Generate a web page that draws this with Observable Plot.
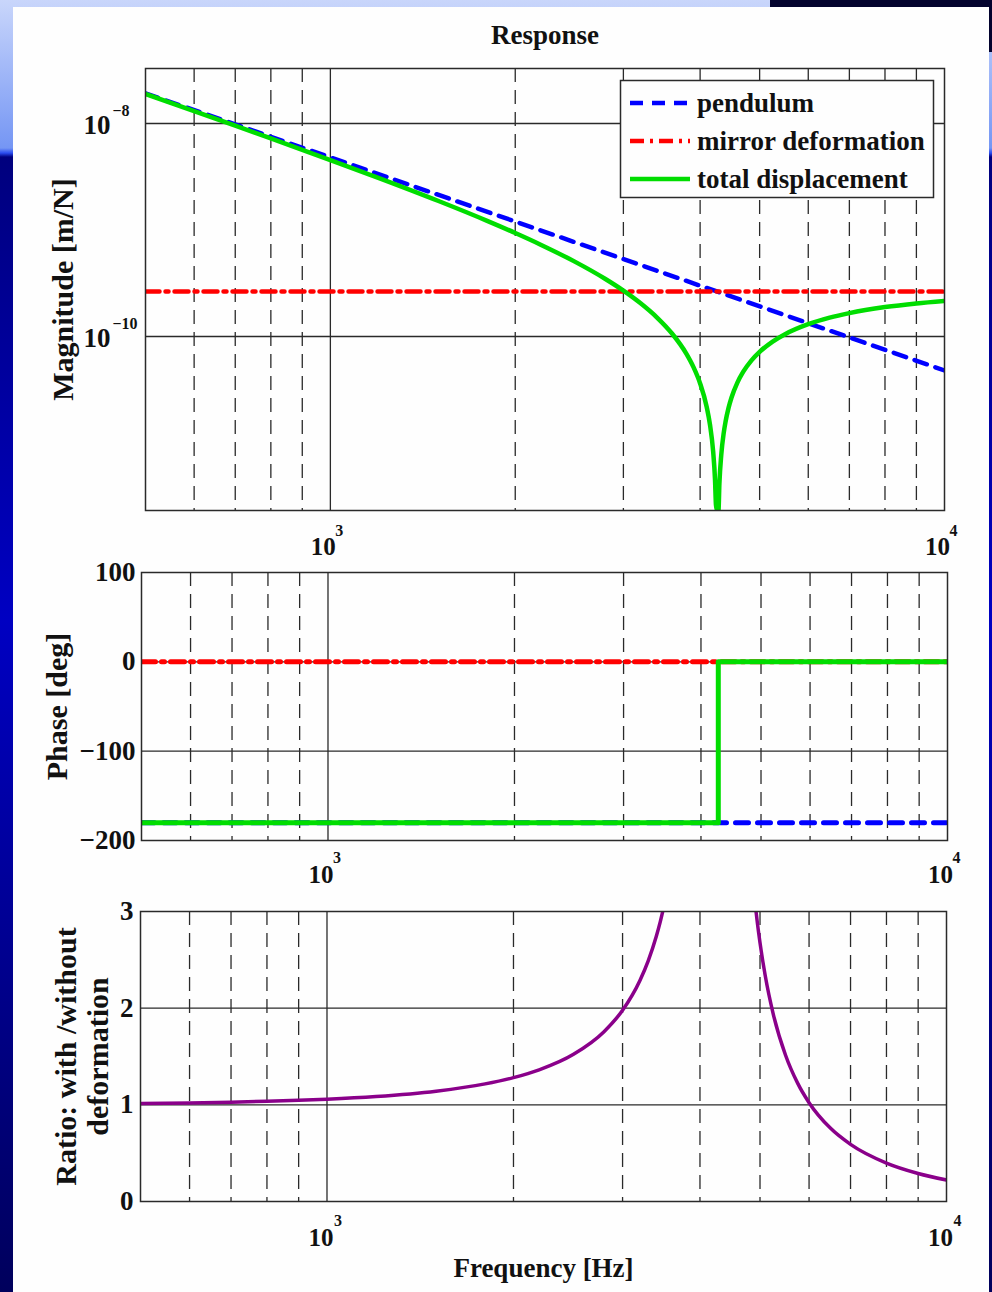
<!DOCTYPE html>
<html>
<head>
<meta charset="utf-8">
<script src="https://cdn.jsdelivr.net/npm/d3@7"></script>
<script src="https://cdn.jsdelivr.net/npm/@observablehq/plot@0.6"></script>
<style>
html, body { margin: 0; padding: 0; }
body {
  width: 992px; height: 1292px; position: relative; overflow: hidden;
  background: linear-gradient(to bottom, #c9d6fb 0px, #7596f4 148px, #2a4cf0 153px, #00007e 157px, #0000c2 620px, #00005c 1292px);
  font-family: "Liberation Serif", "Times New Roman", serif;
}
#sheet { position: absolute; left: 13px; top: 7px; width: 976px; height: 1285px; background: #fefefe; }
#logo { position: absolute; left: 770px; top: 0; width: 222px; height: 7px; background: #03032e; }
#logo2 { position: absolute; left: 989px; top: 0; width: 3px; height: 52px; background: #03032e; }
.plot { position: absolute; left: 0; }
</style>
</head>
<body>
<div id="logo"></div>
<div id="logo2"></div>
<div id="sheet"></div>
<div id="p1" class="plot" style="top:0px"></div>
<div id="p2" class="plot" style="top:560px"></div>
<div id="p3" class="plot" style="top:890px"></div>
<div id="legend" class="plot" style="top:0px"></div>
<script>
// ---------------- data ----------------
const freqMinor = [600, 700, 800, 900, 2000, 3000, 4000, 5000, 6000, 7000, 8000, 9000];
const freqDecades = [1000, 10000];
const decadeExp = ["3", "4"];

const magTicks = [1e-8, 1e-10];
const magTickExp = ["\u22128", "\u221210"];
const phaseTicks = [-200, -100, 0, 100];
const ratioTicks = [0, 1, 2, 3];

const seriesNames = ["pendulum", "mirror deformation", "total displacement"];

// pendulum (free mass, 1/f^2)
const pendFreq = [500, 10000];
const pendMag = [1.92e-8, 4.8e-11];
const pendPhase = [-180, -180];

// mirror deformation (flat)
const mirrorFreq = [500, 10000];
const mirrorMag = [2.638e-10, 2.638e-10];
const mirrorPhase = [0, 0];

// total displacement
const totalFreq = [500, 600, 700, 800, 900, 1000, 1200, 1500, 1800, 2000, 2200, 2500, 2800, 3000, 3200, 3400, 3600, 3800, 3900, 4000, 4100, 4150, 4200, 4230, 4245, 4263, 4285, 4300, 4330, 4370, 4400, 4450, 4500, 4600, 4700, 4850, 5000, 5250, 5500, 6000, 6500, 7000, 8000, 9000, 10000];
const totalMag = [1.894e-8, 1.307e-8, 9.534e-9, 7.238e-9, 5.663e-9, 4.537e-9, 3.070e-9, 1.870e-9, 1.218e-9, 9.365e-10, 7.281e-10, 5.044e-10, 3.485e-10, 2.696e-10, 2.050e-10, 1.515e-10, 1.066e-10, 6.867e-11, 5.184e-11, 3.625e-11, 2.180e-11, 1.495e-11, 8.356e-12, 4.51e-12, 2.616e-12, 2.33e-12, 2.334e-12, 4.155e-12, 7.74e-12, 1.241e-11, 1.582e-11, 2.136e-11, 2.672e-11, 3.692e-11, 4.647e-11, 5.971e-11, 7.177e-11, 8.962e-11, 1.051e-10, 1.304e-10, 1.502e-10, 1.658e-10, 1.888e-10, 2.045e-10, 2.158e-10];
const totalPhaseFreq = [500, 4266, 4266, 10000];
const totalPhase = [-180, -180, 0, 0];

// ratio with / without deformation (two branches around the notch)
const ratioFreqLow = [500, 600, 700, 800, 900, 1000, 1200, 1500, 1800, 2000, 2200, 2500, 2800, 3000, 3200, 3300, 3400, 3450, 3500];
const ratioLow = [1.0139, 1.0202, 1.0277, 1.0364, 1.0466, 1.0581, 1.0859, 1.1411, 1.2166, 1.2817, 1.3623, 1.5230, 1.7568, 1.9784, 2.2867, 2.4900, 2.7413, 2.8904, 3.0593];
const ratioFreqHigh = [4900, 4950, 5000, 5100, 5250, 5500, 5750, 6000, 6500, 7000, 8000, 9000, 10000];
const ratioHigh = [3.1316, 2.8870, 2.6758, 2.3298, 1.9435, 1.5101, 1.2244, 1.0223, 0.7567, 0.5908, 0.3973, 0.2898, 0.2225];

// ---------------- styles ----------------
const FONT = "'Liberation Serif','Times New Roman',serif";
const INK = "#111";
const GRID = "#2a2a2a";
const BLUE = "#0000ff", RED = "#ff0000", GREEN = "#00dd00", PURPLE = "#8a008a";
const DASH_BLUE = "13,9", DASH_RED = "14,6,3,6", DASH_GRID = "14,8";
const LW = 4.5;

const rows = (xs, ys) => xs.map((x, i) => ({x, y: ys[i]}));
const baseStyle = {fontFamily: FONT, fontWeight: "bold", background: "transparent", color: INK, overflow: "visible"};

function grid(yMajor) {
  return [
    Plot.ruleX(freqMinor, {stroke: GRID, strokeWidth: 1.3, strokeDasharray: DASH_GRID}),
    Plot.ruleX([1000], {stroke: GRID, strokeWidth: 1.3}),
    Plot.ruleY(yMajor, {stroke: GRID, strokeWidth: 1.3})
  ];
}
function xTickLabels(dy10, dyExp, dx10, dxExp) {
  return [
    Plot.text(freqDecades, {x: d => d, frameAnchor: "bottom", lineAnchor: "middle", text: () => "10", dy: dy10, dx: dx10, fontSize: 25, fill: INK}),
    Plot.text(freqDecades, {x: d => d, frameAnchor: "bottom", lineAnchor: "middle", text: (d, i) => decadeExp[i], dy: dyExp, dx: dxExp, fontSize: 16, textAnchor: "start", fill: INK})
  ];
}
function yLabel(text, dx, size, lh) {
  return Plot.text([text], {frameAnchor: "left", textAnchor: "middle", lineAnchor: "middle", text: d => d, rotate: -90, dx, fontSize: size, lineHeight: lh, fill: INK});
}

// ---------------- panel 1: magnitude ----------------
const p1 = Plot.plot({
  width: 992, height: 560,
  marginLeft: 145, marginRight: 48, marginTop: 68, marginBottom: 50,
  x: {type: "log", domain: [500, 10000], axis: null},
  y: {type: "log", domain: [2.323e-12, 3.283e-8], axis: null},
  style: baseStyle,
  marks: [
    ...grid(magTicks),
    Plot.line(rows(pendFreq, pendMag), {x: "x", y: "y", stroke: BLUE, strokeWidth: LW, strokeDasharray: DASH_BLUE, clip: true}),
    Plot.line(rows(mirrorFreq, mirrorMag), {x: "x", y: "y", stroke: RED, strokeWidth: LW, strokeDasharray: DASH_RED, clip: true}),
    Plot.line(rows(totalFreq, totalMag), {x: "x", y: "y", stroke: GREEN, strokeWidth: LW, curve: "monotone-x", clip: true}),
    Plot.frame({stroke: GRID, strokeWidth: 1.5}),
    ...xTickLabels(36, 20, -7, 5),
    Plot.text(magTicks, {y: d => d, frameAnchor: "left", lineAnchor: "middle", text: () => "10", textAnchor: "end", dx: -35, dy: 2, fontSize: 27, fill: INK}),
    Plot.text(magTicks, {y: d => d, frameAnchor: "left", lineAnchor: "middle", text: (d, i) => magTickExp[i], textAnchor: "start", dx: -33, dy: -13, fontSize: 16, fill: INK}),
    Plot.text(["Response"], {frameAnchor: "top", lineAnchor: "middle", textAnchor: "middle", text: d => d, dy: -33, fontSize: 27, fill: INK}),
    yLabel("Magnitude [m/N]", -83, 30, 1.1)
  ]
});
document.getElementById("p1").append(p1);

// ---------------- panel 2: phase ----------------
const p2 = Plot.plot({
  width: 992, height: 330,
  marginLeft: 141, marginRight: 45, marginTop: 12, marginBottom: 50,
  x: {type: "log", domain: [500, 10000], axis: null},
  y: {domain: [-200, 100], axis: null},
  style: baseStyle,
  marks: [
    ...grid([-100, 0]),
    Plot.line(rows(pendFreq, pendPhase), {x: "x", y: "y", stroke: BLUE, strokeWidth: 5, strokeDasharray: DASH_BLUE, clip: true}),
    Plot.line(rows(mirrorFreq, mirrorPhase), {x: "x", y: "y", stroke: RED, strokeWidth: 5, strokeDasharray: DASH_RED, clip: true}),
    Plot.line(rows(totalPhaseFreq, totalPhase), {x: "x", y: "y", stroke: GREEN, strokeWidth: 5, clip: true}),
    Plot.frame({stroke: GRID, strokeWidth: 1.5}),
    Plot.axisY({ticks: phaseTicks, tickSize: 0, tickPadding: 6, label: null, fontSize: 27, tickFormat: d3.format("d")}),
    ...xTickLabels(34, 17, -7, 5),
    yLabel("Phase [deg]", -85, 30, 1.1)
  ]
});
document.getElementById("p2").append(p2);

// ---------------- panel 3: ratio ----------------
const p3 = Plot.plot({
  width: 992, height: 402,
  marginLeft: 140, marginRight: 46, marginTop: 21, marginBottom: 91,
  x: {type: "log", domain: [500, 10000], axis: null},
  y: {domain: [0, 3], axis: null},
  style: baseStyle,
  marks: [
    ...grid([1, 2]),
    Plot.line(rows(ratioFreqLow, ratioLow), {x: "x", y: "y", stroke: PURPLE, strokeWidth: 3.5, curve: "monotone-x", clip: true}),
    Plot.line(rows(ratioFreqHigh, ratioHigh), {x: "x", y: "y", stroke: PURPLE, strokeWidth: 3.5, curve: "monotone-x", clip: true}),
    Plot.frame({stroke: GRID, strokeWidth: 1.5}),
    Plot.axisY({ticks: ratioTicks, tickSize: 0, tickPadding: 7, label: null, fontSize: 27, tickFormat: d => String(d)}),
    ...xTickLabels(36, 19, -6, 7),
    Plot.text(["Frequency [Hz]"], {frameAnchor: "bottom", lineAnchor: "middle", textAnchor: "middle", text: d => d, dy: 67, fontSize: 27, fill: INK}),
    yLabel("Ratio: with /without\ndeformation", -59, 30, 1.07)
  ]
});
document.getElementById("p3").append(p3);

// ---------------- legend ----------------
const legendStyles = [
  {stroke: BLUE, dash: DASH_BLUE},
  {stroke: RED, dash: DASH_RED},
  {stroke: GREEN, dash: null}
];
const leg = d3.create("svg").attr("width", 992).attr("height", 220)
  .style("font-family", FONT).style("font-weight", "bold");
leg.append("rect").attr("x", 620.5).attr("y", 80.5).attr("width", 313).attr("height", 117)
  .attr("fill", "#fefefe").attr("stroke", GRID).attr("stroke-width", 1.5);
seriesNames.forEach((name, i) => {
  const yy = 103 + i * 38;
  const ln = leg.append("line").attr("x1", 630).attr("x2", 690).attr("y1", yy).attr("y2", yy)
    .attr("stroke", legendStyles[i].stroke).attr("stroke-width", 4.5);
  if (legendStyles[i].dash) ln.attr("stroke-dasharray", legendStyles[i].dash);
  leg.append("text").attr("x", 697).attr("y", yy + 9).attr("font-size", 27).attr("fill", INK).text(name);
});
document.getElementById("legend").append(leg.node());
</script>
</body>
</html>
